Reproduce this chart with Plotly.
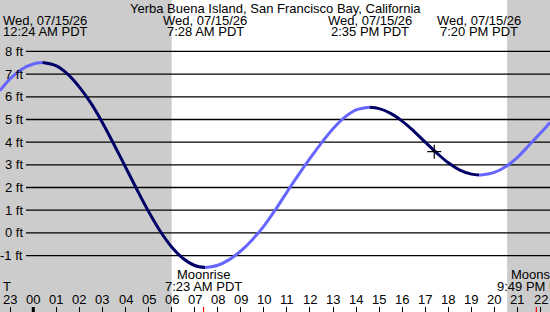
import plotly.graph_objects as go

# ---------------- data ----------------
station = "Yerba Buena Island, San Francisco Bay, California"
date_label = "Wed, 07/15/26"

# tide height readings: hours after local midnight, feet
tide_hours = [-1.444, -1.0, -0.5, 0.0, 0.4,
              1.0, 1.5, 2.0, 2.5, 3.0, 3.5, 4.0, 4.5, 5.0, 5.5, 6.0, 6.5, 7.0, 7.467,
              8.0, 8.5, 9.0, 9.5, 10.0, 10.5, 11.0, 11.5, 12.0, 12.5, 13.0, 13.5, 14.0, 14.583,
              15.0, 15.5, 16.0, 16.5, 17.0, 17.5, 18.0, 18.5, 19.0, 19.333,
              19.5, 20.0, 20.5, 21.0, 21.5, 22.0, 22.41]
tide_ft = [6.27, 6.80, 7.22, 7.45, 7.51,
           7.36, 6.99, 6.43, 5.72, 4.86, 3.90, 2.90, 1.90, 0.94, 0.08, -0.62, -1.13, -1.44, -1.53,
           -1.43, -1.18, -0.80, -0.30, 0.30, 1.02, 1.80, 2.56, 3.28, 3.97, 4.59, 5.09, 5.42, 5.54,
           5.48, 5.27, 4.93, 4.49, 4.00, 3.52, 3.09, 2.77, 2.59, 2.55,
           2.56, 2.67, 2.93, 3.33, 3.86, 4.40, 4.87]

extreme_hours = [0.4, 7.467, 14.583, 19.333]
extreme_times = ["12:24 AM PDT", "7:28 AM PDT", "2:35 PM PDT", "7:20 PM PDT"]

now_hour = [17.39]
now_ft = [3.58]

sunrise_hour = 6.0
sunset_hour = 20.55

moon_hours = [7.383, 21.817]
moon_events = ["Moonrise", "Moonset"]
moon_times = ["7:23 AM PDT", "9:49 PM PDT"]

hour_ticks = list(range(-1, 23))
ft_levels = list(range(-1, 9))

# ---------------- layout helpers ----------------
W, H = 550, 312
X_RANGE = [-1.444, 22.41]
Y_RANGE = [-3.49, 10.27]
FONT = "Liberation Sans, Arial, sans-serif"
LIGHT = "#6666ff"
DARK = "#000066"
GRAY = "#cccccc"


def py(p):
    return 1 - p / H


def px(p):
    return p / W


fig = go.Figure()

# tide curve, split at the extremes, coloured by rising / falling
cuts = [0] + [tide_hours.index(h) for h in extreme_hours] + [len(tide_hours) - 1]
for a, b in zip(cuts[:-1], cuts[1:]):
    xs = tide_hours[a:b + 1]
    ys = tide_ft[a:b + 1]
    col = LIGHT if ys[-1] > ys[0] else DARK
    fig.add_trace(go.Scatter(x=xs, y=ys, mode="lines",
                             line=dict(color=col, width=3, shape="spline"),
                             hoverinfo="skip", showlegend=False))

# current time marker
fig.add_trace(go.Scatter(x=now_hour, y=now_ft, mode="markers",
                         marker=dict(symbol="cross-thin", size=10,
                                     line=dict(color="black", width=1.2)),
                         hoverinfo="skip", showlegend=False))

shapes = []
# night shading
shapes.append(dict(type="rect", xref="x", yref="paper", x0=X_RANGE[0], x1=sunrise_hour,
                   y0=0, y1=1, fillcolor=GRAY, line_width=0, layer="below"))
shapes.append(dict(type="rect", xref="x", yref="paper", x0=sunset_hour, x1=X_RANGE[1],
                   y0=0, y1=1, fillcolor=GRAY, line_width=0, layer="below"))
# horizontal grid lines
for v in ft_levels:
    shapes.append(dict(type="line", xref="paper", yref="y", x0=px(26), x1=1, y0=v, y1=v,
                       line=dict(color="black", width=1.3), layer="below"))
# midnight tick (thick)
shapes.append(dict(type="line", xref="x", yref="paper", x0=0, x1=0, y0=0, y1=py(307),
                   line=dict(color="black", width=3)))
# moon event ticks (red)
for mh in moon_hours:
    shapes.append(dict(type="line", xref="x", yref="paper", x0=mh, x1=mh, y0=0, y1=py(307),
                       line=dict(color="red", width=1.2)))

annotations = []
base = dict(showarrow=False, font=dict(family=FONT, size=13, color="black"))
# title
annotations.append(dict(text=station, xref="paper", yref="paper", x=0.5, y=py(8),
                        xanchor="center", yanchor="middle", **base))
# extreme headers
for eh, et in zip(extreme_hours, extreme_times):
    pos = (eh - X_RANGE[0]) / (X_RANGE[1] - X_RANGE[0]) * W
    if pos < 45:
        kw = dict(xref="paper", x=px(1), xanchor="left")
    else:
        kw = dict(xref="x", x=eh, xanchor="center")
    annotations.append(dict(text=date_label, yref="paper", y=py(20), yanchor="middle", **kw, **base))
    annotations.append(dict(text=et, yref="paper", y=py(32), yanchor="middle", **kw, **base))
# y labels
for v in ft_levels:
    annotations.append(dict(text=f"{v} ft", xref="paper", yref="y", x=px(24.5), y=v,
                            xanchor="right", yanchor="middle", **base))
# moon events
for mh, me, mt in zip(moon_hours, moon_events, moon_times):
    annotations.append(dict(text=me, xref="x", yref="paper", x=mh, y=py(274),
                            xanchor="center", yanchor="middle", **base))
    annotations.append(dict(text=mt, xref="x", yref="paper", x=mh, y=py(286.5),
                            xanchor="center", yanchor="middle", **base))
# "T" marker at lower left
annotations.append(dict(text="T", xref="paper", yref="paper", x=px(1), y=py(286.5),
                        xanchor="left", yanchor="middle", **base))
# hour labels
for h in hour_ticks:
    annotations.append(dict(text=f"{h % 24:02d}", xref="x", yref="paper", x=h, y=py(299.5),
                            xanchor="center", yanchor="middle", **base))

fig.update_layout(
    width=W, height=H,
    margin=dict(l=0, r=0, t=0, b=0, pad=0),
    paper_bgcolor="white", plot_bgcolor="white",
    shapes=shapes, annotations=annotations,
    xaxis=dict(range=X_RANGE, showgrid=False, zeroline=False, showline=False,
               showticklabels=False, ticks="inside", tickmode="array", tickvals=hour_ticks,
               ticklen=5, tickwidth=1, tickcolor="black", fixedrange=True),
    yaxis=dict(range=Y_RANGE, showgrid=False, zeroline=False, showline=False,
               showticklabels=False, ticks="", fixedrange=True),
    showlegend=False,
)

fig.write_html("out.html", config={"displayModeBar": False})
